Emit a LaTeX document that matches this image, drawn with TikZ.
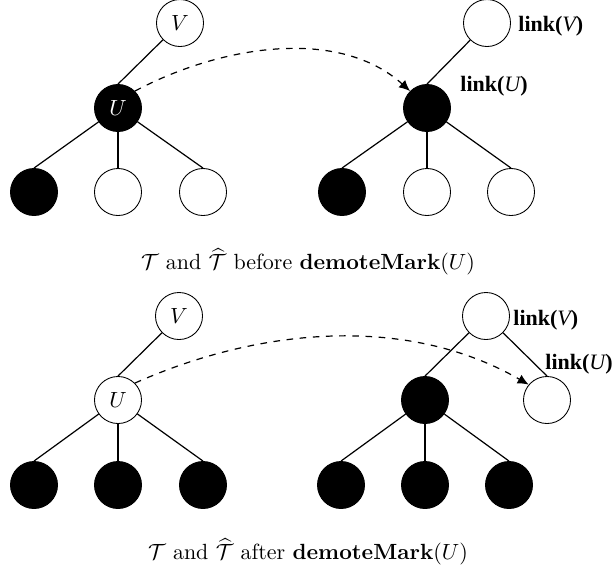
\documentclass[tikz,border=0pt]{standalone}
\usepackage{amsmath,amssymb}
\usepackage{fontspec}
\usepackage{tikz}
\usetikzlibrary{arrows,arrows.meta,positioning}
\newfontfamily\linkfont[BoldFont={Liberation Serif Bold},ItalicFont={Liberation Serif Italic}]{Liberation Serif}
\newcommand{\linkof}[1]{{\linkfont\bfseries link(}{\linkfont\itshape #1}{\linkfont\bfseries )}}
\tikzset{
  wnode/.style={circle,draw,fill=white,minimum size=21.4pt,inner sep=0pt},
  bnode/.style={circle,draw,fill=black,text=white,minimum size=21.4pt,inner sep=0pt},
  edge/.style={line width=0.55pt},
  jump/.style={dashed,line width=0.55pt,-{Latex[length=5pt,width=4.5pt]}},
  lbl/.style={anchor=west,inner sep=0pt}
}
\begin{document}
\begin{tikzpicture}[x=0.455pt,y=-0.455pt]
\useasboundingbox (0,0) rectangle (616,572);
%%%%%%%%%%%%%%%% before, T
\node[wnode] (v1) at (180,23) {$V$};
\node[bnode] (u1) at (118,108) {$U$};
\node[bnode] (a1) at (34,192) {};
\node[wnode] (b1) at (118,192) {};
\node[wnode] (c1) at (203,192) {};
\draw[edge] (v1) -- (u1.north);
\draw[edge] (u1) -- (a1.north);
\draw[edge] (u1) -- (b1.north);
\draw[edge] (u1) -- (c1.north);
%%%%%%%%%%%%%%%% before, T hat
\node[wnode] (v2) at (487,23) {};
\node[bnode] (u2) at (427,108) {};
\node[bnode] (a2) at (342,192) {};
\node[wnode] (b2) at (427,192) {};
\node[wnode] (c2) at (511,192) {};
\draw[edge] (v2) -- (u2.north);
\draw[edge] (u2) -- (a2.north);
\draw[edge] (u2) -- (b2.north);
\draw[edge] (u2) -- (c2.north);
\node[lbl] (lv2) at (518,26) {\linkof{V}};
\node[lbl] (lu2) at (460,86) {\linkof{U}};
\draw[jump] (u1.45) to[out=28,in=138,looseness=0.9] (u2.135);
\node (cap1) at (308,262) {$\mathcal{T}$ and $\widehat{\mathcal{T}}$ before $\textbf{demoteMark}(U)$};
%%%%%%%%%%%%%%%% after, T
\node[wnode] (v3) at (179,316) {$V$};
\node[wnode] (u3) at (118,400) {$U$};
\node[bnode] (a3) at (34,485) {};
\node[bnode] (b3) at (118,485) {};
\node[bnode] (c3) at (203,485) {};
\draw[edge] (v3) -- (u3.north);
\draw[edge] (u3) -- (a3.north);
\draw[edge] (u3) -- (b3.north);
\draw[edge] (u3) -- (c3.north);
%%%%%%%%%%%%%%%% after, T hat
\node[wnode] (v4) at (486,316) {};
\node[bnode] (m4) at (425,400) {};
\node[wnode] (u4) at (547,400) {};
\node[bnode] (a4) at (341,485) {};
\node[bnode] (b4) at (425,485) {};
\node[bnode] (c4) at (509,485) {};
\draw[edge] (v4) -- (m4.north);
\draw[edge] (v4) -- (u4.north);
\draw[edge] (m4) -- (a4.north);
\draw[edge] (m4) -- (b4.north);
\draw[edge] (m4) -- (c4.north);
\node[lbl] (lv4) at (513,320) {\linkof{V}};
\node[lbl] (lu4) at (545,364) {\linkof{U}};
\draw[jump] (u3.45) to[out=24,in=150,looseness=0.9] (u4.140);
\node (cap2) at (308,552) {$\mathcal{T}$ and $\widehat{\mathcal{T}}$ after $\textbf{demoteMark}(U)$};
%%%%%%%%%%%%%%%%
\end{tikzpicture}
\end{document}
